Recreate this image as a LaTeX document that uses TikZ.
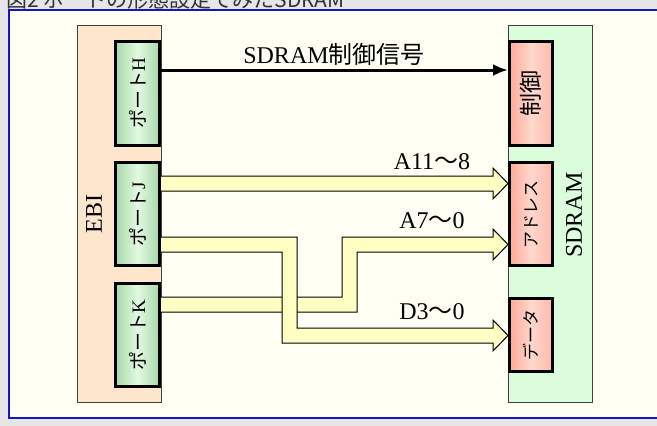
\documentclass[tikz,border=0pt]{standalone}
\usepackage{fontspec}
\setmainfont{Liberation Serif}
\newfontfamily\jp{Noto Sans CJK JP}
\usetikzlibrary{arrows.meta}
\definecolor{bggrey}{HTML}{E6E6E6}
\definecolor{cream}{HTML}{FFFFF4}
\definecolor{frameblue}{HTML}{1515C8}
\definecolor{ebifill}{HTML}{FDE6CC}
\definecolor{sdfill}{HTML}{DCFDDC}
\definecolor{pgedge}{HTML}{A8D8A8}
\definecolor{pgmid}{HTML}{E2F9E2}
\definecolor{rdedge}{HTML}{FFA898}
\definecolor{rdmid}{HTML}{FFD8CC}
\definecolor{busfill}{HTML}{FFFFC4}
\definecolor{titlegrey}{HTML}{333333}
\tikzset{
  blockbox/.style={draw=black!75, line width=1pt, inner sep=0pt, minimum width=84pt, minimum height=377pt},
  portbox/.style={draw=black, line width=3pt, inner sep=0pt, minimum width=44pt,
     left color=pgedge, right color=pgedge, middle color=pgmid},
  memport/.style={draw=black, line width=3pt, inner sep=0pt, minimum width=43pt,
     left color=rdedge, right color=rdedge!80!white, middle color=rdmid},
  vlabel/.style={rotate=90, inner sep=0pt, font=\fontsize{19}{19}\selectfont},
  buslabel/.style={anchor=base, inner sep=0pt, font=\fontsize{24}{24}\selectfont},
  bus/.style={draw=black, line width=1pt, fill=busfill, line join=miter},
  ctrl/.style={draw=black, line width=3pt, -{Latex[length=15pt,width=12pt]}},
}
\begin{document}
\begin{tikzpicture}[x=1pt,y=-1pt]
\useasboundingbox (0,0) rectangle (657,426);
\clip (0,0) rectangle (657,426);
\fill[bggrey] (0,0) rectangle (657,426);
\node[anchor=base west, inner sep=0pt, text=titlegrey, font=\jp\fontsize{21}{21}\selectfont] (title) at (6,7.5) {図2 ポートの形態設定でみたSDRAM};
\draw[frameblue, line width=2pt, fill=cream] (9,10) rectangle (680,418);

% outer blocks
\node[blockbox, fill=ebifill] (EBI) at (119,214) {};
\node[blockbox, fill=sdfill] (SD) at (550,214) {};
\node[rotate=90, inner sep=0pt, font=\fontsize{24}{24}\selectfont] (ebit) at (94,214) {EBI};
\node[rotate=90, inner sep=0pt, font=\fontsize{24}{24}\selectfont] (sdt) at (574,215) {SDRAM};

% buses (K first, J on top)
\draw[bus] (159,297) -- (342,297) -- (342,237) -- (493,237) -- (493,229) -- (508,244.5) -- (493,260) -- (493,252) -- (357,252) -- (357,312) -- (159,312) -- cycle;
\draw[bus] (159,237) -- (297,237) -- (297,328) -- (493,328) -- (493,320) -- (508,335.5) -- (493,351) -- (493,343) -- (282,343) -- (282,252) -- (159,252) -- cycle;
\draw[bus] (159,176) -- (493,176) -- (493,168) -- (508,183.5) -- (493,199) -- (493,191) -- (159,191) -- cycle;

% port boxes
\node[portbox, minimum height=104pt] (PH) at (137.5,93.5) {};
\node[portbox, minimum height=103pt] (PJ) at (137.5,214) {};
\node[portbox, minimum height=103pt] (PK) at (137.5,335) {};
\node[vlabel] (PHt) at (PH.center) {{\jp ポート}H};
\node[vlabel] (PJt) at (PJ.center) {{\jp ポート}J};
\node[vlabel] (PKt) at (PK.center) {{\jp ポート}K};

% memory side boxes
\node[memport, minimum height=104pt] (C) at (531,93.5) {};
\node[memport, minimum height=103pt] (AD) at (531,214) {};
\node[memport, minimum height=73pt] (DA) at (531,335) {};
\node[vlabel, font=\jp\fontsize{23}{23}\selectfont] (Ct) at (C.center) {制御};
\node[vlabel, font=\jp\fontsize{17}{17}\selectfont] (ADt) at (AD.center) {アドレス};
\node[vlabel, font=\jp\fontsize{17}{17}\selectfont] (DAt) at (DA.center) {データ};

% control arrow
\coordinate (cs) at (PH.east |- 0,70);
\coordinate (ce) at (C.west |- 0,70);
\draw[ctrl] (cs) -- (ce);

% labels
\node[buslabel] (l1) at (334,63) {SDRAM{\jp 制御信号}};
\node[buslabel] (l2) at (432,169) {A11{\jp 〜}8};
\node[buslabel] (l3) at (432,228) {A7{\jp 〜}0};
\node[buslabel] (l4) at (432,319) {D3{\jp 〜}0};
\end{tikzpicture}
\end{document}
